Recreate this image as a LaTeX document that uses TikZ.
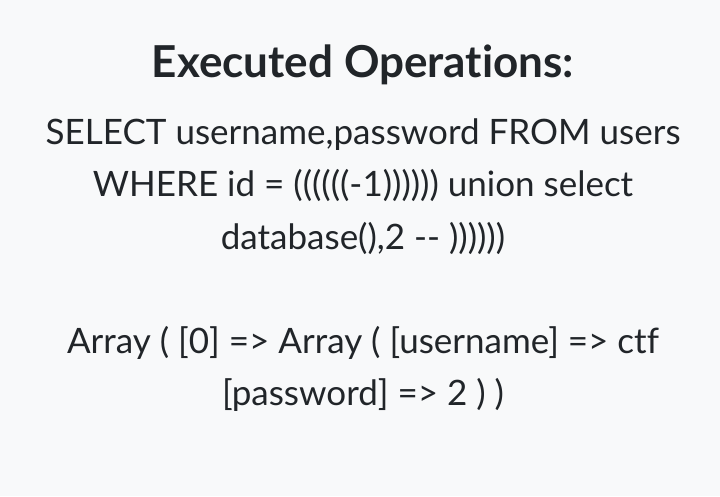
\documentclass[tikz,border=0pt]{standalone}
\usepackage{fontspec}
\setmainfont{Lato}[RawFeature={-liga}]
\definecolor{bgc}{HTML}{F8F9FA}
\definecolor{txt}{HTML}{212529}
\begin{document}
\begin{tikzpicture}[x=1pt,y=1pt,
  line/.style={anchor=base,text=txt,inner sep=0pt,font=\fontsize{35}{42}\selectfont},
  titlestyle/.style={anchor=base,text=txt,inner sep=0pt,font=\fontsize{44}{52}\selectfont\bfseries}]
\fill[bgc] (0,0) rectangle (720,496);
\useasboundingbox (0,0) rectangle (720,496);
\node[titlestyle] (title) at (363,496-78) {Executed Operations:};
\node[line] (l1) at (363,496-145) {SELECT username,password FROM users};
\node[line] (l2) at (363,496-197) {WHERE id = ((((((-1)))))) union select};
\node[line] (l3) at (363,496-249) {database(),2 -{}- ))))))};
\node[line] (l4) at (363,496-353) {Array ( [0] => Array ( [username] => ctf};
\node[line] (l5) at (363,496-405) {[password] => 2 ) )};
\end{tikzpicture}
\end{document}
